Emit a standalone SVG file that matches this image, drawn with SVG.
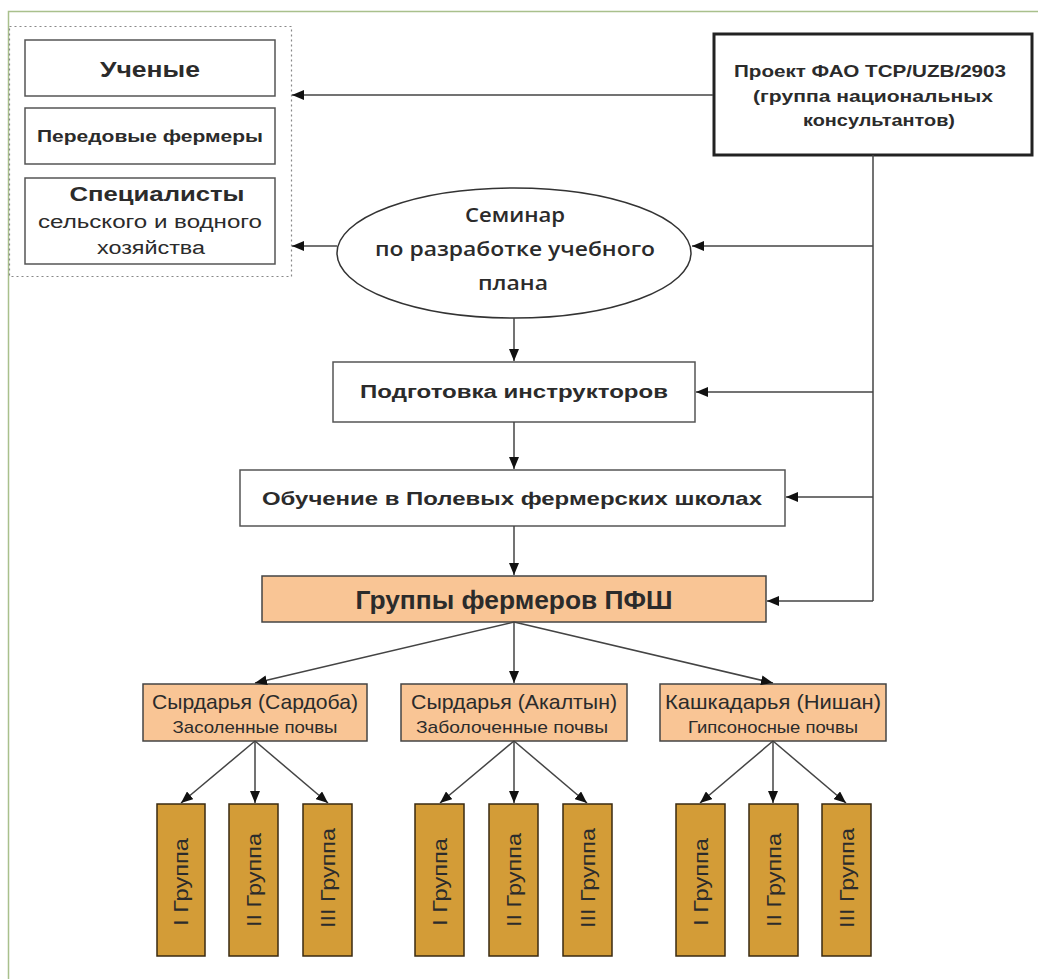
<svg xmlns="http://www.w3.org/2000/svg" width="1038" height="979" viewBox="0 0 1038 979">
<defs>
<marker id="ah" viewBox="0 0 12 10" refX="12" refY="5" markerWidth="12" markerHeight="10" markerUnits="userSpaceOnUse" orient="auto">
<path d="M0,0 L12,5 L0,10 z" fill="#111"/>
</marker>
<style>
.t{font-family:"Liberation Sans",Arial,sans-serif;fill:#2b2b2b;text-anchor:middle}
.b{font-weight:bold}
.o{font-family:"Open Sans","Liberation Sans",sans-serif;fill:#2b2b2b;text-anchor:middle;font-weight:600}
.box{fill:#fff;stroke:#555;stroke-width:1.5}
.peach{fill:#f9c595;stroke:#444;stroke-width:1.5}
.bar{fill:#d39c37;stroke:#3a2a10;stroke-width:1.5}
.ln{fill:none;stroke:#444;stroke-width:1.5}
.ar{fill:none;stroke:#444;stroke-width:1.5;marker-end:url(#ah)}
</style>
</defs>
<rect width="1038" height="979" fill="#fff"/>
<path d="M8.5,979 V11.5 H1038" fill="none" stroke="#a9c08c" stroke-width="1.5"/>

<g id="container">
<rect x="9.5" y="26.5" width="282" height="250" fill="none" stroke="#888" stroke-width="1.2" stroke-dasharray="2,3"/>
</g>
<g id="uchenye">
<rect class="box" x="25" y="40" width="250" height="56"/>
<text class="t b" x="150" y="77" font-size="22" textLength="100" lengthAdjust="spacingAndGlyphs">Ученые</text>
</g>
<g id="peredovye">
<rect class="box" x="25" y="108" width="250" height="56"/>
<text class="t b" x="150" y="142" font-size="17" textLength="226" lengthAdjust="spacingAndGlyphs">Передовые фермеры</text>
</g>
<g id="specialisty">
<rect class="box" x="25" y="178" width="250" height="86"/>
<text class="t b" x="157" y="201" font-size="20" textLength="175" lengthAdjust="spacingAndGlyphs">Специалисты</text>
<text class="t" x="150" y="228" font-size="18" textLength="224" lengthAdjust="spacingAndGlyphs">сельского и водного</text>
<text class="t" x="151" y="254" font-size="18" textLength="108" lengthAdjust="spacingAndGlyphs">хозяйства</text>
</g>
<g id="project">
<rect x="714" y="34" width="318" height="121" fill="#fff" stroke="#222" stroke-width="3"/>
<text class="t b" x="870" y="77" font-size="17" textLength="272" lengthAdjust="spacingAndGlyphs">Проект ФАО TCP/UZB/2903</text>
<text class="t b" x="873" y="102" font-size="17" textLength="240" lengthAdjust="spacingAndGlyphs">(группа национальных</text>
<text class="t b" x="879" y="126" font-size="17" textLength="152" lengthAdjust="spacingAndGlyphs">консультантов)</text>
</g>
<g id="seminar">
<ellipse cx="514" cy="253" rx="177" ry="65" fill="#fff" stroke="#333" stroke-width="1.5"/>
<text class="o" x="515" y="222" font-size="20" textLength="100" lengthAdjust="spacingAndGlyphs">Семинар</text>
<text class="o" x="515" y="256" font-size="20" textLength="280" lengthAdjust="spacingAndGlyphs">по разработке учебного</text>
<text class="o" x="513" y="290" font-size="20" textLength="70" lengthAdjust="spacingAndGlyphs">плана</text>
</g>
<g id="podgotovka">
<rect class="box" x="333" y="362" width="362" height="60"/>
<text class="t b" x="514" y="398" font-size="18" textLength="308" lengthAdjust="spacingAndGlyphs">Подготовка инструкторов</text>
</g>
<g id="obuchenie">
<rect class="box" x="240" y="470" width="545" height="56"/>
<text class="t b" x="512" y="505" font-size="19" textLength="500" lengthAdjust="spacingAndGlyphs">Обучение в Полевых фермерских школах</text>
</g>
<g id="gruppy">
<rect class="peach" x="262" y="576" width="504" height="46"/>
<text class="t b" x="514" y="609" font-size="25" textLength="317" lengthAdjust="spacingAndGlyphs">Группы фермеров ПФШ</text>
</g>
<g id="reg1">
<rect class="peach" x="143" y="684" width="224" height="57"/>
<text class="t" x="255" y="709" font-size="21" textLength="206" lengthAdjust="spacingAndGlyphs">Сырдарья (Сардоба)</text>
<text class="t" x="255" y="733" font-size="17" textLength="165" lengthAdjust="spacingAndGlyphs">Засоленные почвы</text>
</g>
<g id="reg2">
<rect class="peach" x="401" y="684" width="226" height="57"/>
<text class="t" x="514" y="709" font-size="21" textLength="206" lengthAdjust="spacingAndGlyphs">Сырдарья (Акалтын)</text>
<text class="t" x="512" y="733" font-size="17" textLength="192" lengthAdjust="spacingAndGlyphs">Заболоченные почвы</text>
</g>
<g id="reg3">
<rect class="peach" x="660" y="684" width="226" height="57"/>
<text class="t" x="773" y="709" font-size="21" textLength="216" lengthAdjust="spacingAndGlyphs">Кашкадарья (Нишан)</text>
<text class="t" x="773" y="733" font-size="17" textLength="170" lengthAdjust="spacingAndGlyphs">Гипсоносные почвы</text>
</g>

<g id="bars">
<g id="g1a"><rect class="bar" x="157" y="804" width="48" height="152"/><text class="t" font-size="21" textLength="88" lengthAdjust="spacingAndGlyphs" transform="translate(188,882) rotate(-90)">I Группа</text></g>
<g id="g1b"><rect class="bar" x="229" y="804" width="49" height="152"/><text class="t" font-size="21" textLength="94" lengthAdjust="spacingAndGlyphs" transform="translate(261,880) rotate(-90)">II Группа</text></g>
<g id="g1c"><rect class="bar" x="303" y="804" width="49" height="152"/><text class="t" font-size="21" textLength="100" lengthAdjust="spacingAndGlyphs" transform="translate(335,878) rotate(-90)">III Группа</text></g>
<g id="g2a"><rect class="bar" x="415" y="804" width="49" height="152"/><text class="t" font-size="21" textLength="88" lengthAdjust="spacingAndGlyphs" transform="translate(447,882) rotate(-90)">I Группа</text></g>
<g id="g2b"><rect class="bar" x="489" y="804" width="49" height="152"/><text class="t" font-size="21" textLength="94" lengthAdjust="spacingAndGlyphs" transform="translate(521,880) rotate(-90)">II Группа</text></g>
<g id="g2c"><rect class="bar" x="563" y="804" width="49" height="152"/><text class="t" font-size="21" textLength="100" lengthAdjust="spacingAndGlyphs" transform="translate(595,878) rotate(-90)">III Группа</text></g>
<g id="g3a"><rect class="bar" x="676" y="804" width="49" height="152"/><text class="t" font-size="21" textLength="88" lengthAdjust="spacingAndGlyphs" transform="translate(708,882) rotate(-90)">I Группа</text></g>
<g id="g3b"><rect class="bar" x="749" y="804" width="49" height="152"/><text class="t" font-size="21" textLength="94" lengthAdjust="spacingAndGlyphs" transform="translate(781,880) rotate(-90)">II Группа</text></g>
<g id="g3c"><rect class="bar" x="822" y="804" width="49" height="152"/><text class="t" font-size="21" textLength="100" lengthAdjust="spacingAndGlyphs" transform="translate(854,878) rotate(-90)">III Группа</text></g>
</g>

<g id="connectors">
<path class="ar" d="M713,95 H292"/>
<path class="ln" d="M873,155 V601"/>
<path class="ar" d="M873,246 H692"/>
<path class="ar" d="M337,246 H292"/>
<path class="ar" d="M873,392 H696"/>
<path class="ar" d="M873,497 H786"/>
<path class="ar" d="M873,601 H767"/>
<path class="ar" d="M514,318 V361"/>
<path class="ar" d="M514,422 V469"/>
<path class="ar" d="M514,526 V575"/>
<path class="ar" d="M514,622 L255,683"/>
<path class="ar" d="M514,622 V683"/>
<path class="ar" d="M514,622 L773,683"/>
<path class="ar" d="M255,741 L181,803"/>
<path class="ar" d="M255,741 V803"/>
<path class="ar" d="M255,741 L328,803"/>
<path class="ar" d="M514,741 L440,803"/>
<path class="ar" d="M514,741 V803"/>
<path class="ar" d="M514,741 L587,803"/>
<path class="ar" d="M773,741 L700,803"/>
<path class="ar" d="M773,741 V803"/>
<path class="ar" d="M773,741 L846,803"/>
</g>
</svg>
